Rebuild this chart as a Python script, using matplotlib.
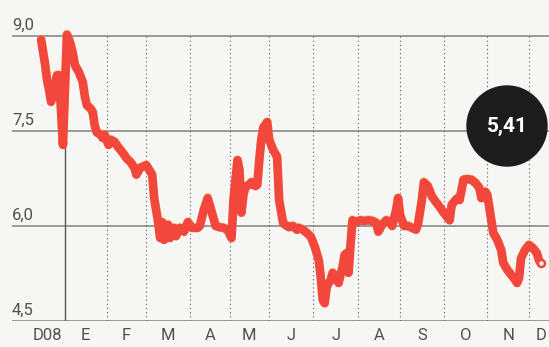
import matplotlib.pyplot as plt
import matplotlib.patheffects as pe
from matplotlib.patches import Circle

# sesiones bursatiles desde el 1 de enero de 2009 y cotizacion
sesiones = [-12, -11, -10, -9, -8, -7, -6, -5, -4, -3, -2, -1,
            1, 2, 3, 4, 5, 7, 9, 10, 11, 13, 14, 15, 16, 18, 19, 20, 22, 23, 25, 26, 28,
            30, 31, 33, 35, 36, 38, 41, 44, 45, 47, 48, 49, 50, 52, 53, 55, 56, 58,
            60, 62, 64, 67, 68, 70, 72, 74, 76, 78, 80, 82, 84, 85, 87, 88, 89, 90,
            91, 93, 94, 96, 97, 98, 99, 100, 102, 103, 105, 107, 108, 110, 111, 113,
            115, 117, 118, 120, 122, 124, 126, 128, 129, 130, 131, 132, 134, 135, 137,
            138, 139, 140, 141, 142, 143, 144, 145, 147, 149, 151, 153, 155, 157, 158,
            160, 162, 164, 165, 167, 168, 169, 171, 173, 175, 177, 178, 180, 181, 183,
            185, 187, 189, 191, 193, 194, 195, 197, 198, 199, 200, 201, 203, 205, 207,
            209, 210, 212, 213, 215, 216, 218, 220, 221, 223, 225, 227, 228, 229, 230,
            232, 234, 236, 238, 239, 240]
valores = [8.94, 8.75, 8.55, 8.30, 8.15, 7.96, 8.07, 8.25, 8.38, 8.38, 7.83, 7.28,
           9.02, 8.95, 8.85, 8.72, 8.54, 8.43, 8.27, 8.05, 7.91, 7.85, 7.80, 7.59, 7.48, 7.44, 7.39, 7.44, 7.28, 7.36, 7.33, 7.28, 7.20,
           7.12, 7.07, 7.01, 6.92, 6.81, 6.92, 6.96, 6.81, 6.44, 6.06, 5.81, 6.06, 5.78, 6.02, 5.81, 5.97, 5.84, 5.97,
           5.91, 6.06, 5.97, 5.97, 6.00, 6.25, 6.44, 6.22, 6.00, 5.98, 5.97, 5.94, 5.81, 6.41, 7.04, 6.88, 6.21, 6.49,
           6.62, 6.65, 6.69, 6.63, 6.65, 7.04, 7.36, 7.55, 7.64, 7.36, 7.20, 7.09, 6.41, 6.05, 6.02, 5.98,
           6.00, 5.94, 5.97, 5.94, 5.89, 5.83, 5.67, 5.46, 5.19, 4.83, 4.78, 5.04, 5.15, 5.26, 5.15,
           5.10, 5.23, 5.35, 5.54, 5.57, 5.26, 5.70, 6.09, 6.06, 6.09, 6.08, 6.09, 6.08, 6.05, 5.91,
           6.02, 6.09, 6.06, 6.00, 6.25, 6.44, 6.17, 6.00, 6.00, 5.97, 5.94, 6.02, 6.41, 6.69, 6.63,
           6.47, 6.38, 6.30, 6.21, 6.13, 6.09, 6.33, 6.41, 6.44, 6.41, 6.57, 6.73, 6.74, 6.73, 6.68,
           6.60, 6.44, 6.54, 6.49, 6.09, 5.89, 5.78, 5.62, 5.42, 5.31, 5.23, 5.15, 5.10, 5.18, 5.49,
           5.62, 5.70, 5.65, 5.57, 5.46, 5.41]

meses = ["D08", "E", "F", "M", "A", "M", "J", "J", "A", "S", "O", "N", "D"]
inicio_mes = [0, 21, 41, 63, 83, 103, 125, 148, 169, 191, 213, 234]
niveles = [4.5, 6.0, 7.5, 9.0]
ultimo = "5,41"

fuente = ["Roboto", "DejaVu Sans"]
fondo = "#f6f6f4"
rojo = "#f2473c"

fig = plt.figure(figsize=(5.49, 3.47), dpi=100, facecolor=fondo)
ax = fig.add_axes([12 / 549, 26 / 347, 537 / 549, 304 / 347])
ax.set_facecolor(fondo)
ax.set_xlim(-26.7, 244.1)
ax.set_ylim(4.5, 9.3)
for s in ax.spines.values():
    s.set_visible(False)
ax.set_xticks([])
ax.set_yticks([])

# lineas horizontales y etiquetas
for n in niveles:
    ax.axhline(n, color="#8a8a8a", lw=1.2, zorder=1)
    ax.annotate(f"{n:.1f}".replace(".", ","), xy=(0, n), xycoords=("axes fraction", "data"),
                xytext=(0, 2.5), textcoords="offset points", ha="left", va="bottom",
                fontsize=12, color="#505050", family=fuente)

# separacion de meses
ax.plot([0, 0], [4.5, 9.0], color="#555555", lw=1.0, zorder=1)
for m in inicio_mes[1:]:
    ax.plot([m, m], [4.5, 9.0], color="#707070", lw=0.8, ls=(0, (1.2, 2.5)), zorder=1)

# etiquetas de meses
pos = [-9] + [(a + b) / 2 for a, b in zip(inicio_mes[:-1], inicio_mes[1:])] + [240]
for p, m in zip(pos, meses):
    ax.annotate(m, xy=(p, 4.5), xytext=(0, -10.5), textcoords="offset points",
                ha="center", va="center", fontsize=12, color="#505050", family=fuente,
                annotation_clip=False)

# cotizacion
ax.plot(sesiones, valores, color=rojo, lw=6.2, solid_joinstyle="round",
        solid_capstyle="round", zorder=3,
        path_effects=[pe.SimpleLineShadow(offset=(0, 0.6), shadow_color="#f5c23a", alpha=0.5),
                      pe.Normal()])
ax.plot(sesiones[-1], valores[-1], "o", ms=5, mfc="white", mec=rojo, mew=1.8, zorder=4)

# burbuja con el ultimo valor
fig.add_artist(Circle((5.07, 2.21), 0.40, transform=fig.dpi_scale_trans,
                      color="#1c1c1c", zorder=5))
fig.text(5.07 / 5.49, 2.21 / 3.47, ultimo, ha="center", va="center", color="white",
         fontsize=15, fontweight="bold", family=fuente, zorder=6)

fig.savefig("out.png", dpi=100, facecolor=fondo)
